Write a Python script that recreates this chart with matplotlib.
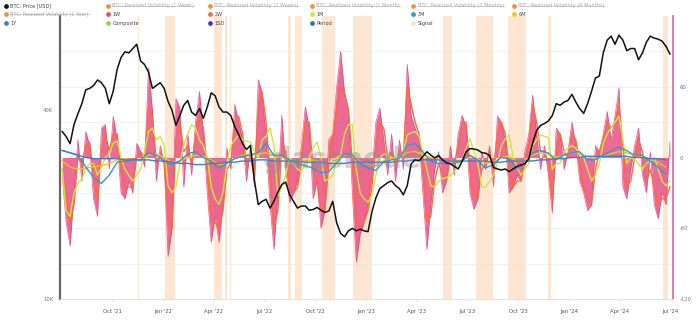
import matplotlib
matplotlib.use("Agg")
import matplotlib.pyplot as plt
import matplotlib.dates as mdates
from matplotlib.lines import Line2D
from matplotlib.ticker import NullLocator
import pandas as pd

plt.rcParams['font.family'] = ['DejaVu Sans']

# ---------------------------------------------------------------- data
weekly_dates = pd.date_range('2021-07-03', '2024-06-30', periods=156)
biweekly_dates = pd.date_range('2021-07-03', '2024-06-22', periods=78)

btc_price_k = [
    34.2, 33, 31.3, 36, 39, 42, 46.5, 47, 48, 50,
    49, 47, 42, 46, 54, 59, 61.5, 61, 63, 65,
    57.5, 56, 53, 47, 48, 49, 47, 42.7, 40, 35.8,
    38.5, 41.5, 43, 39.5, 38.5, 40.5, 37.7, 41, 45.5, 44.5,
    41, 39.5, 39.5, 38.5, 35.5, 33.5, 31.3, 30, 30.9, 24,
    20, 20.5, 20.8, 19.5, 20.5, 21.9, 23.2, 23.6, 21.5, 20.5,
    19.5, 19.8, 19.8, 19.2, 19.3, 19.6, 19.2, 18.9, 19.1, 20.5,
    17.5, 16.2, 15.8, 16.5, 16.8, 16.5, 16.7, 16.5, 16.4, 19,
    21, 22.5, 23, 23.5, 23.8, 23, 22.5, 21.5, 23, 27,
    27.8, 27.6, 28.5, 29.5, 28.8, 28.2, 28.7, 27.8, 27.2, 27,
    26.5, 26, 27.5, 29.5, 30.2, 30.1, 29.9, 29.3, 29.2, 28.7,
    26.3, 26, 25.8, 26, 25.5, 26, 26.5, 26.8, 27, 28,
    31.5, 34.5, 35.8, 36.3, 37, 38.5, 42, 41.5, 42.5, 43,
    45, 42.5, 40.5, 39.1, 42, 46, 50.7, 51.5, 61, 67,
    69, 65, 69.5, 67, 62, 63, 63, 58, 61, 66,
    69, 68, 67.5, 66.5, 64, 60.5,
]

osc_1w = [
    -15, -55, -75, -30, 15, -20, 22, 10, -35, -50,
    25, 28, -10, 35, 15, -30, -35, -20, -30, 12,
    5, -8, 76, 40, -20, 10, -5, -84, -60, 50,
    42, -25, 20, -15, 30, 56, 20, -30, -72, -50,
    -72, -40, 8, -10, 45, 30, 15, -20, 10, -25,
    66, 55, 15, -40, -78, -30, 36, -10, -38, -30,
    -20, 10, 43, 25, -35, -20, -60, -45, 15, 20,
    60, 90, 55, 40, -30, -89, -65, -55, -40, -15,
    30, 42, 15, -15, 20, -20, 15, -10, 79, 35,
    25, 15, -30, -78, -40, -10, 5, -30, -20, 10,
    -15, 20, 36, 25, -30, -44, -35, 5, -10, 10,
    -25, 35, 30, 15, -30, -25, -15, -20, 5, 20,
    53, 20, -10, 10, -15, -47, 25, 20, -10, 5,
    30, 10, -20, -30, -45, -40, 10, 5, 20, 39,
    15, 35, 59, -25, -35, -10, 10, 25, -15, -30,
    5, -40, -52, -30, -40, 13,
]

osc_2w = [
    -10, -35, -55, -40, 0, -5, 10, 13, -15, -35,
    5, 20, 5, 20, 20, -10, -25, -25, -25, 0,
    5, 0, 42, 35, -5, 0, -5, -50, -60, 15,
    30, 5, 10, -5, 15, 35, 25, -10, -50, -55,
    -60, -45, -10, -5, 30, 35, 20, -5, 0, -15,
    40, 55, 30, -15, -60, -45, 10, 5, -25, -30,
    -25, -5, 30, 30, -10, -20, -45, -45, -5, 15,
    40, 60, 55, 40, -5, -55, -60, -55, -45, -25,
    10, 30, 25, 0, 5, -5, 5, 0, 60, 45,
    30, 20, -10, -55, -50, -20, -5, -15, -20, 0,
    -5, 10, 30, 30, -10, -30, -35, -10, -5, 5,
    -10, 20, 30, 20, -10, -25, -20, -20, -5, 10,
    45, 30, 5, 5, -5, -35, 5, 20, 5, 0,
    20, 15, -5, -25, -35, -40, -10, 5, 15, 30,
    25, 30, 45, 10, -25, -20, 0, 15, 5, -20,
    -10, -25, -40, -35, -35, -25,
]

osc_1m = [
    -10, -45, -50, -30, -22, -18, -10, -5, -5, -15,
    -8, 0, 3, 12, 14, 0, -10, -15, -20, -15,
    -10, 5, 22, 25, 15, 18, 10, -24, -30, -25,
    -5, 10, 20, 28, 25, 15, 10, 0, -25, -35,
    -40, -30, -5, 10, 15, 19, 15, 14, 13, 5,
    0, 15, 18, 25, 10, -32, -25, -15, 0, -5,
    -10, -12, -5, 0, 8, 13, 0, -20, -18, -15,
    0, 2, 20, 28, 28, -10, -30, -35, -38, -32,
    -15, 0, 3, 2, 0, -2, 0, 5, 19, 21,
    22, 18, 5, -10, -24, -25, -20, -18, -17, -15,
    -12, -5, -3, 8, 16, 5, -5, -25, -25, -20,
    -15, -5, 10, 16, 19, 0, -8, -15, -10, -5,
    10, 15, 19, 18, 17, -10, -5, -5, 5, 8,
    10, 8, 2, 0, -10, -20, -15, -5, 12, 20,
    25, 30, 35, 15, -5, 0, -2, -5, -10, -5,
    -3, 0, -10, -20, -24, -20,
]

osc_3m = [
    6, 4, 2, -8, -17, -22, -15, -4, -3, -2,
    -2, 4, 2, -3, -6, -3, 3, 5, 0, -3,
    -9, -5, -1, 1, 2, 4, 12, 2, 2, -2,
    -5, -7, -9, -13, -12, -5, 3, 2, -5, -9,
    -11, -4, -2, -1, 10, 12, 5, -3, -5, -5,
    -5, -3, 2, -2, -9, -6, 0, -1, -9, -6,
    4, 6, 4, -2, 2, 4, 5, -2, -2, 2,
    5, 9, 6, 2, 2, -3, -8, -14,
]

osc_6m = [
    -3, -8, -10, -9, -8, -7, -5, -2, -1, -2,
    -3, 2, 3, 0, -4, -3, 0, 2, 1, -2,
    -6, -5, -1, 2, 3, 3, 4, 1, 0, -2,
    -3, -3, -2, -4, -5, -2, 2, 2, -3, -6,
    -7, -3, -1, 0, 4, 5, 3, 0, -2, -3,
    -3, -2, 1, -1, -5, -4, 0, 1, -3, -3,
    2, 4, 3, 0, 2, 4, 4, 1, -1, 1,
    3, 5, 4, 2, 1, -1, -4, -8,
]

osc_1y = [
    6, 4, 2, 0, -1, -1, -1, -1, -2, -2,
    -2, -2, -3, -3, -4, -5, -5, -6, -6, -5,
    -5, -4, -4, -3, -3, -2, -2, -3, -3, -3,
    -3, -4, -4, -4, -5, -5, -5, -4, -4, -4,
    -4, -4, -4, -3, -3, -2, -2, -2, -2, -3,
    -3, -3, -3, -3, -3, -4, -4, -3, -3, -3,
    -3, -2, -2, -1, -1, 0, 0, 1, 1, 1,
    1, 1, 1, 0, 0, -1, -1, -2,
]

signal_periods = [
    ('2021-11-17', '2021-11-18'),
    ('2022-01-04', '2022-01-22'),
    ('2022-04-02', '2022-04-16'),
    ('2022-04-22', '2022-04-25'),
    ('2022-05-01', '2022-05-02'),
    ('2022-08-13', '2022-08-19'),
    ('2022-08-25', '2022-09-07'),
    ('2022-10-13', '2022-11-06'),
    ('2022-12-08', '2023-01-11'),
    ('2023-05-19', '2023-06-04'),
    ('2023-07-17', '2023-08-17'),
    ('2023-09-13', '2023-10-16'),
    ('2023-11-24', '2023-11-30'),
    ('2024-06-17', '2024-06-27'),
]

price_ticks = [10000, 40000]
price_tick_labels = ['10K', '40K']
osc_ticks = [-120, -60, 0, 60]
date_ticks = pd.date_range('2021-10-01', '2024-07-01', freq='QS')

# ---------------------------------------------------------------- colours
C_PRICE = '#111111'
C_1W = '#e8467c'
C_2W = '#fb6a3c'
C_1M = '#cde83c'
C_3M = '#2f9ad2'
C_6M = '#f2c419'
C_1Y = '#3c7ddb'
C_SIGNAL = '#fde2c9'
C_RV = '#f39237'

# ---------------------------------------------------------------- figure
W, H = 700, 322
fig = plt.figure(figsize=(W / 100, H / 100), dpi=100)
ax = fig.add_axes([60 / W, 23 / H, 612.7 / W, 283 / H])
ax2 = ax.twinx()

x0 = pd.Timestamp('2021-06-29')
x1 = pd.Timestamp('2024-07-05')

for s, e in signal_periods:
    ax.axvspan(pd.Timestamp(s), pd.Timestamp(e), color=C_SIGNAL, alpha=0.8, lw=0, zorder=0.5)

for g in (-90, -60, -30, 30, 60, 90):
    ax.axhline(g, color='#efefef', lw=0.6, zorder=0.2)

ax.fill_between(weekly_dates, 0, osc_1w, color=C_1W, alpha=0.8, lw=0, zorder=1)
ax.plot(weekly_dates, osc_1w, color=C_1W, lw=0.5, alpha=0.9, zorder=1)
ax.plot(weekly_dates, osc_2w, color=C_2W, lw=1.0, zorder=2)
ax.plot(weekly_dates, osc_1m, color=C_1M, lw=1.0, zorder=3)
ax.plot(biweekly_dates, osc_6m, color=C_6M, lw=1.0, zorder=4)
ax.plot(biweekly_dates, osc_3m, color=C_3M, lw=1.0, zorder=5)
ax.plot(biweekly_dates, osc_1y, color=C_1Y, lw=1.0, zorder=6)

ax.set_ylim(-120, 120)
ax.set_xlim(x0, x1)
ax.set_xticks(date_ticks)
ax.xaxis.set_major_formatter(mdates.DateFormatter("%b '%y"))
ax.tick_params(axis='x', length=2, width=0.5, color='#dddddd',
               labelsize=3.8, labelcolor='#555', pad=5)

ax.spines['top'].set_visible(False)
ax.spines['left'].set_color('#666666')
ax.spines['left'].set_linewidth(1.6)
ax.spines['right'].set_color('#e56d9c')
ax.spines['right'].set_linewidth(1.3)
ax.spines['bottom'].set_color('#e2e2e2')
ax.spines['bottom'].set_linewidth(0.8)

# price on its own log axis, drawn above the oscillators
ax2.plot(weekly_dates, [p * 1000 for p in btc_price_k], color=C_PRICE, lw=1.1, zorder=10)
ax2.set_yscale('log')
ax2.set_ylim(10000, 80000)
ax2.set_xlim(x0, x1)
for sp in ax2.spines.values():
    sp.set_visible(False)

# oscillator scale on the right, price scale on the left
ax.yaxis.set_ticks_position('right')
ax.yaxis.set_label_position('right')
ax.set_yticks(osc_ticks)
ax.set_yticklabels([str(t) for t in osc_ticks])
ax.tick_params(axis='y', which='both', left=False, labelleft=False,
               right=False, labelright=True, length=0,
               labelsize=3.8, labelcolor='#777', pad=5)

ax2.yaxis.set_ticks_position('left')
ax2.set_yticks(price_ticks)
ax2.set_yticklabels(price_tick_labels)
ax2.yaxis.set_minor_locator(NullLocator())
ax2.tick_params(axis='y', which='both', right=False, labelright=False,
                left=False, labelleft=True, length=0,
                labelsize=3.8, labelcolor='#777', pad=5)

# watermark
ax2.text(0.46, 0.49, 'glassnode', transform=ax2.transAxes, ha='center', va='center',
         fontsize=20, fontweight='bold', color='#8c8c8c', alpha=0.4, zorder=9)

# ---------------------------------------------------------------- legend
legend_rows = [
    [('BTC: Price [USD]', C_PRICE, False),
     ('BTC: Realized Volatility (1 Week)', C_RV, True),
     ('BTC: Realized Volatility (2 Weeks)', C_RV, True),
     ('BTC: Realized Volatility (1 Month)', C_RV, True),
     ('BTC: Realized Volatility (3 Months)', C_RV, True),
     ('BTC: Realized Volatility (6 Months)', C_RV, True)],
    [('BTC: Realized Volatility (1 Year)', C_RV, True),
     ('1W', C_1W, False), ('2W', C_2W, False), ('1M', C_1M, False),
     ('3M', C_3M, False), ('6M', C_6M, False)],
    [('1Y', C_1Y, False), ('Composite', '#8bd25c', False), ('1SD', '#4a2bcf', False),
     ('Period', '#2e7d8c', False), ('Signal', C_SIGNAL, False)],
]
col_x = [6, 108, 210, 312, 413, 514]
row_y = [5.7, 14.2, 23.3]

renderer = fig.canvas.get_renderer()
inv = fig.transFigure.inverted()
for r, row in enumerate(legend_rows):
    for c, (label, color, hidden) in enumerate(row):
        xf = col_x[c] / W
        yf = 1 - row_y[r] / H
        fig.add_artist(Line2D([xf], [yf], marker='o', ms=2.4, color=color, lw=0,
                              transform=fig.transFigure))
        t = fig.text(xf + 4.5 / W, yf, label, fontsize=3.6, va='center', ha='left',
                     color='#aaaaaa' if hidden else '#444444')
        if hidden:
            bb = t.get_window_extent(renderer)
            (a0, b0), (a1, b1) = inv.transform([(bb.x0, bb.y0), (bb.x1, bb.y1)])
            ym = (b0 + b1) / 2
            fig.add_artist(Line2D([a0, a1], [ym, ym], lw=0.4, color='#aaaaaa',
                                  transform=fig.transFigure))

fig.savefig('out.png', dpi=100)
